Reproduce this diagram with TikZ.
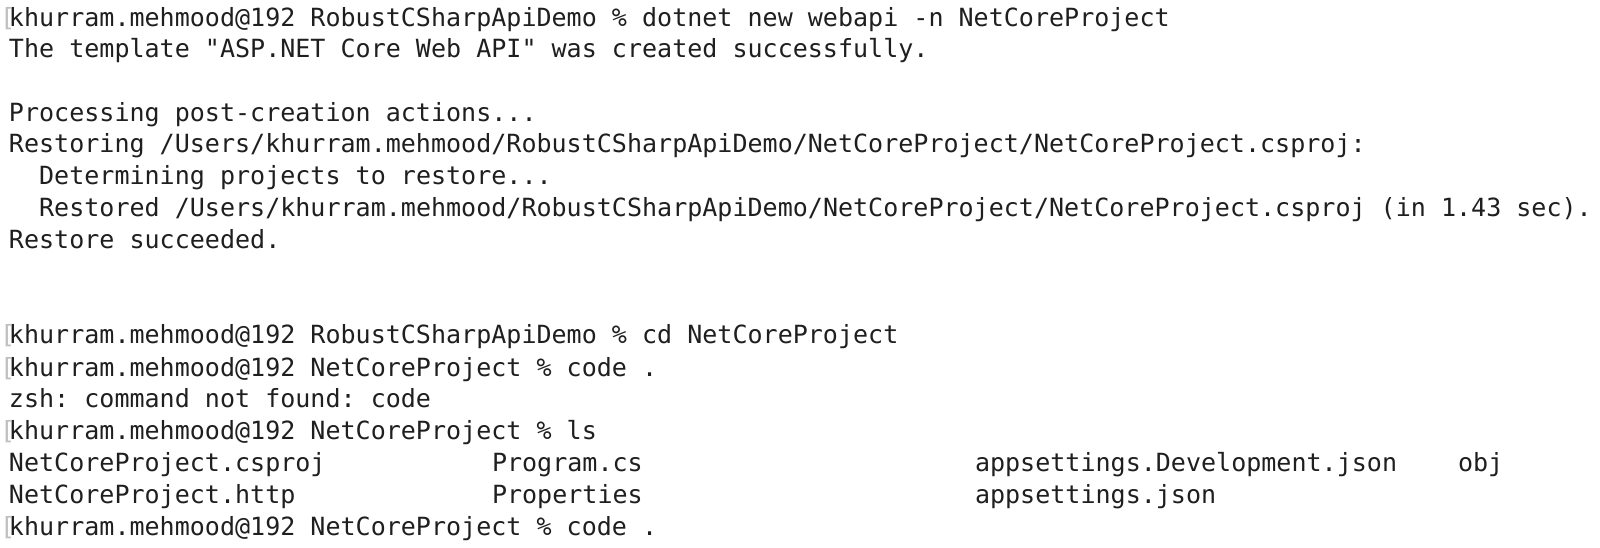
\documentclass[tikz,border=0pt]{standalone}
\usepackage{fontspec}
\setmonofont{DejaVu Sans Mono}[Ligatures=NoCommon]
\begin{document}
\begin{tikzpicture}[x=0.5pt,y=-0.5pt,
  term/.style={anchor=base west,inner sep=0pt,outer sep=0pt,text=black!88,font=\fontsize{12.52pt}{15pt}\ttfamily},
  brk/.style={anchor=base west,inner sep=0pt,outer sep=0pt,text=black!25,font=\fontsize{12.52pt}{15pt}\ttfamily}]
\useasboundingbox[fill=white] (0,0) rectangle (1600,547);
\def\xa{9}
\node[brk] (b0) at (0,26) {[};
\node[term] (l0) at (\xa,26) {khurram.mehmood@192 RobustCSharpApiDemo \% dotnet new webapi -n NetCoreProject};
\node[term] (l1) at (\xa,57.5) {The template "ASP.NET Core Web API" was created successfully.};
\node[term] (l3) at (\xa,121) {Processing post-creation actions...};
\node[term] (l4) at (\xa,152.8) {Restoring /Users/khurram.mehmood/RobustCSharpApiDemo/NetCoreProject/NetCoreProject.csproj:};
\node[term] (l5) at (\xa,184.5) {\ \ Determining projects to restore...};
\node[term] (l6) at (\xa,216.3) {\ \ Restored /Users/khurram.mehmood/RobustCSharpApiDemo/NetCoreProject/NetCoreProject.csproj (in 1.43 sec).};
\node[term] (l7) at (\xa,248.6) {Restore succeeded.};
\node[brk] (b10) at (0,343.8) {[};
\node[term] (l10) at (\xa,343.8) {khurram.mehmood@192 RobustCSharpApiDemo \% cd NetCoreProject};
\node[brk] (b11) at (0,376) {[};
\node[term] (l11) at (\xa,376) {khurram.mehmood@192 NetCoreProject \% code .};
\node[term] (l12) at (\xa,407.8) {zsh: command not found: code};
\node[brk] (b13) at (0,439.5) {[};
\node[term] (l13) at (\xa,439.5) {khurram.mehmood@192 NetCoreProject \% ls};
\node[term] (l14a) at (\xa,471.3) {NetCoreProject.csproj};
\node[term] (l14b) at (492,471.3) {Program.cs};
\node[term] (l14c) at (975,471.3) {appsettings.Development.json};
\node[term] (l14d) at (1458,471.3) {obj};
\node[term] (l15a) at (\xa,503) {NetCoreProject.http};
\node[term] (l15b) at (492,503) {Properties};
\node[term] (l15c) at (975,503) {appsettings.json};
\node[brk] (b16) at (0,535.2) {[};
\node[term] (l16) at (\xa,535.2) {khurram.mehmood@192 NetCoreProject \% code .};
\end{tikzpicture}
\end{document}
